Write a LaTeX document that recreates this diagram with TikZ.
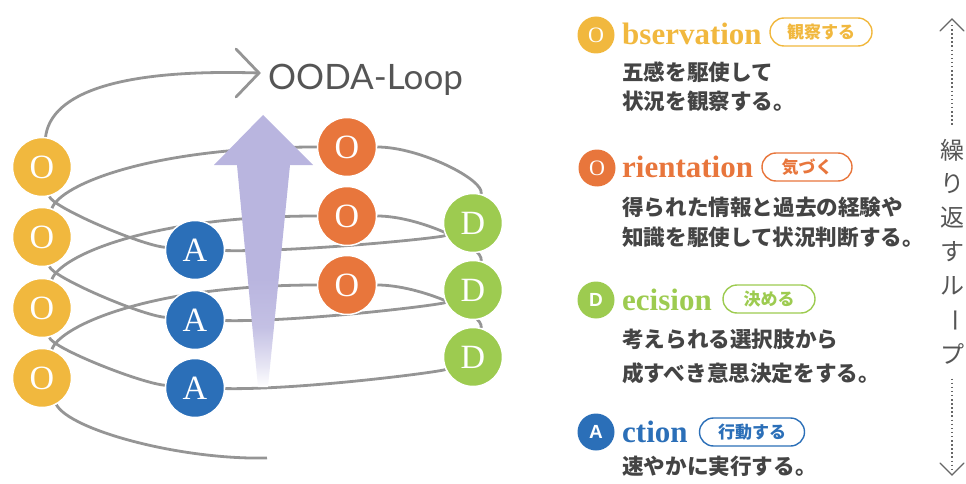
\documentclass[tikz,border=0pt]{standalone}
\usepackage{fontspec}
\setmainfont{Liberation Serif}
\newfontfamily\jp{Noto Sans CJK JP}
\newfontfamily\latof{Lato}
\newfontfamily\hsans{Liberation Sans}
\usetikzlibrary{calc}
\definecolor{cy}{HTML}{F1B83E}
\definecolor{co}{HTML}{E8763C}
\definecolor{cg}{HTML}{9DCB50}
\definecolor{cb}{HTML}{2B6FB8}
\definecolor{arw}{HTML}{B9B5DF}
\definecolor{lg}{HTML}{959595}
\definecolor{tc}{HTML}{555555}
\definecolor{bodyc}{HTML}{444444}
\pgfdeclarelayer{bg}
\pgfsetlayers{bg,main}
\pgfdeclareverticalshading{arrowfade}{100bp}{color(0bp)=(white); color(25bp)=(white); color(29bp)=(arw!35); color(36bp)=(arw!85); color(45bp)=(arw); color(100bp)=(arw)}
\tikzset{
  big/.style={circle, minimum size=59pt, inner sep=0pt, draw=white, line width=1.5pt, text=white, font=\fontsize{34}{34}\selectfont},
  yel/.style={big, fill=cy}, ora/.style={big, fill=co}, grn/.style={big, fill=cg}, blu/.style={big, fill=cb},
  loopline/.style={draw=lg, line width=2.8pt},
  hdr/.style={circle, minimum size=37pt, inner sep=0pt, text=white},
  htext/.style={anchor=base west, inner sep=0pt, font=\fontsize{31}{31}\selectfont\bfseries},
  badge/.style={draw, rounded corners=14pt, line width=1.4pt, minimum height=28pt, inner sep=0pt, fill=white, font=\jp\bfseries\fontsize{17}{17}\selectfont},
  body/.style={anchor=west, inner sep=0pt, text=bodyc, font=\jp\bfseries\fontsize{21.6}{21.6}\selectfont},
  vchar/.style={inner sep=0pt, text=tc, font=\jp\fontsize{24}{24}\selectfont},
  side/.style={draw=tc!90, line width=1.3pt},
  sidedot/.style={draw=tc!90, line width=1.5pt, dash pattern=on 1.5pt off 2.6pt}
}
\begin{document}
\begin{tikzpicture}[x=1pt,y=-1pt]
\useasboundingbox (0,0) rectangle (966,484);
% circles
\node[yel] (Y1) at (42,167) {O};
\node[yel] (Y2) at (42,237) {O};
\node[yel] (Y3) at (42,308) {O};
\node[yel] (Y4) at (42,378) {O};
\node[ora] (R1) at (347,147) {O};
\node[ora] (R2) at (347,216) {O};
\node[ora] (R3) at (347,285) {O};
\node[grn] (G1) at (473,223) {D};
\node[grn] (G2) at (473,290) {D};
\node[grn] (G3) at (473,357) {D};
\node[blu] (B1) at (195,250) {A};
\node[blu] (B2) at (195,320) {A};
\node[blu] (B3) at (195,388) {A};
\coordinate (start) at (267,458);
\coordinate (tip) at (259,73);
\coordinate (chu) at (236,49);
\coordinate (chd) at (236,97);
\node[anchor=west, inner sep=0pt, text=tc, font=\latof\fontsize{35}{35}\selectfont] (title) at (268,80) {OODA-Loop};
\begin{pgfonlayer}{bg}
\draw[loopline] (start) .. controls +(-87,2) and +(28,52) .. (Y4);
\foreach \y/\r/\g/\b/\n in {Y4/R3/G3/B3/Y3, Y3/R2/G2/B2/Y2, Y2/R1/G1/B1/Y1}{
  \draw[loopline] (\y) .. controls +(18,-52) and +(-197,0) .. (\r);
  \draw[loopline] (\r) .. controls +(73,0) and +(12,-43) .. (\g);
  \draw[loopline] (\g) .. controls +(-33,15) and +(105,2) .. (\b);
  \draw[loopline] (\b) .. controls +(-55,-5) and +(10,40) .. (\n);
}
\draw[loopline] (Y1) .. controls +(8,-67) and +(-158,-5) .. (tip);
\draw[loopline, line cap=round] (chu) -- (tip) -- (chd);
\shade[shading=arrowfade] (263,115) -- (313,165) -- (290,165) -- (268,387) -- (258,387) -- (237,165) -- (214,165) -- cycle;
\end{pgfonlayer}
% legend
\node[hdr, fill=cy, font=\fontsize{22}{22}\selectfont] (hO) at (596,35) {O};
\node[htext, text=cy] (hOt) at (622,45) {bservation};
\node[badge, draw=cy, text=cy, minimum width=102pt] (bO) at (821,32) {観察する};
\node[body] (tO1) at (622,72) {五感を駆使して};
\node[body] (tO2) at (622,101) {状況を観察する。};

\node[hdr, fill=co, font=\fontsize{22}{22}\selectfont] (hR) at (597,168) {O};
\node[htext, text=co] (hRt) at (622,177) {rientation};
\node[badge, draw=co, text=co, minimum width=90pt] (bR) at (807,167) {気づく};
\node[body] (tR1) at (622,207) {得られた情報と過去の経験や};
\node[body] (tR2) at (622,237) {知識を駆使して状況判断する。};

\node[hdr, fill=cg, font=\hsans\bfseries\fontsize{19}{19}\selectfont] (hD) at (596,300) {D};
\node[htext, text=cg] (hDt) at (622,310) {ecision};
\node[badge, draw=cg, text=cg, minimum width=92pt] (bD) at (769,299) {決める};
\node[body] (tD1) at (622,339) {考えられる選択肢から};
\node[body] (tD2) at (622,373) {成すべき意思決定をする。};

\node[hdr, fill=cb, font=\hsans\bfseries\fontsize{19}{19}\selectfont] (hA) at (596,432) {A};
\node[htext, text=cb] (hAt) at (622,442) {ction};
\node[badge, draw=cb, text=cb, minimum width=105pt] (bA) at (752,432) {行動する};
\node[body] (tA1) at (622,466) {速やかに実行する。};

% side loop marker
\node[vchar] (v1) at (952,150) {繰};
\node[vchar] (v2) at (952,184) {り};
\node[vchar] (v3) at (952,218) {返};
\node[vchar] (v4) at (952,252) {す};
\node[vchar] (v5) at (952,286) {ル};
\node[vchar, rotate=-90] (v6) at (952,320) {ー};
\node[vchar] (v7) at (952,354) {プ};
\coordinate (st) at (952,19);
\coordinate (sb) at (952,475);
\draw[side, line cap=round] (940,31) -- (st) -- (964,31);
\draw[side, line cap=round] (940,463) -- (sb) -- (964,463);
\draw[sidedot] ($(st)+(0,6)$) -- ($(v1.north)+(0,-12)$);
\draw[sidedot] ($(v7.south)+(0,14)$) -- ($(sb)+(0,-6)$);
\end{tikzpicture}
\end{document}
